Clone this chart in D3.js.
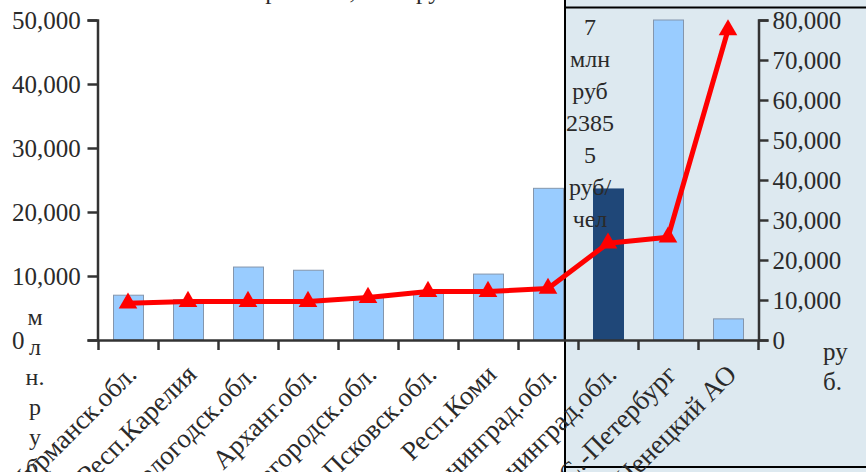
<!DOCTYPE html>
<html><head><meta charset="utf-8">
<script src="https://cdn.jsdelivr.net/npm/d3@7"></script>
<style>
html,body{margin:0;padding:0;background:#fff;}
svg{display:block;}
svg text{font-family:"Liberation Serif","DejaVu Serif",serif !important;}
</style></head>
<body>
<svg id="chart" width="866" height="472"></svg>
<script>
const categories = ["Мурманск.обл.","Респ.Карелия","Вологодск.обл.","Арханг.обл.","Новгородск.обл.","Псковск.обл.","Респ.Коми","Калининград.обл.","Ленинград.обл.","С.-Петербург","Ненецкий АО"];
const barValues = [7000, 6300, 11400, 10900, 6700, 7500, 10300, 23700, 23600, 50000, 3300];
const highlightIndex = 8;
const lineValues = [9200, 9600, 9600, 9600, 10600, 12100, 12100, 12900, 24200, 25700, 77500];
const leftTicks = [0, 10000, 20000, 30000, 40000, 50000];
const rightTicks = [0, 10000, 20000, 30000, 40000, 50000, 60000, 70000, 80000];
const leftTitleLines = ["м","л","н.","р","у","б."];
const rightTitleLines = ["ру","б."];
const noteLines = ["7","млн","руб","2385","5","руб/","чел"];
const titleText = "Объем ВРП в регионе, млн. руб.";

const svg = d3.select("#chart");
const W = 866, H = 472;
const x0 = 98, x1 = 758, yTop = 20, yBot = 340;
const txt = "#2a2a2a";
const FF = "Liberation Serif";

// shaded panel
svg.append("rect").attr("x",565).attr("y",0).attr("width",W-565).attr("height",H).attr("fill","#dde9f0");
svg.append("line").attr("x1",565).attr("x2",565).attr("y1",0).attr("y2",H).attr("stroke","#000").attr("stroke-width",2);
svg.append("line").attr("x1",565).attr("x2",W).attr("y1",7.5).attr("y2",7.5).attr("stroke","#000").attr("stroke-width",2);
svg.append("line").attr("x1",565).attr("x2",W).attr("y1",467).attr("y2",467).attr("stroke","#000").attr("stroke-width",2);

// clipped title
svg.append("text").attr("x",116).attr("y",-1).attr("font-size",25).attr("font-family",FF).attr("fill",txt).text(titleText);

const xb = d3.scaleBand().domain(categories).range([x0,x1]).paddingInner(0.5).paddingOuter(0.25);
const xi = d3.scaleLinear().domain([0,categories.length]).range([x0,x1]);
const yL = d3.scaleLinear().domain([0,50000]).range([yBot,yTop]);
const yR = d3.scaleLinear().domain([0,80000]).range([yBot,yTop]);

// bars
svg.append("g").selectAll("rect").data(barValues).join("rect")
  .attr("x",(d,i)=>xb(categories[i])+0.5)
  .attr("y",d=>yL(d))
  .attr("width",xb.bandwidth())
  .attr("height",d=>yBot-yL(d))
  .attr("fill",(d,i)=>i===highlightIndex?"#1f4778":"#99ccff")
  .attr("stroke",(d,i)=>i===highlightIndex?"#1f4778":"#8496ad")
  .attr("stroke-width",1);

// axes
const gL = svg.append("g").attr("transform",`translate(${x0-0.5},0)`)
  .call(d3.axisLeft(yL).tickValues(leftTicks).tickFormat(d3.format(",")).tickSize(10).tickSizeOuter(10));
gL.selectAll("text").attr("text-anchor","start").attr("x",12-(x0-0.5)).attr("font-size",25).attr("fill",txt);
const gR = svg.append("g").attr("transform",`translate(${x1+0.5},0)`)
  .call(d3.axisRight(yR).tickValues(rightTicks).tickFormat(d3.format(",")).tickSize(10).tickSizeOuter(10).tickPadding(4));
gR.selectAll("text").attr("font-size",25).attr("fill",txt);
const gB = svg.append("g").attr("transform",`translate(0,${yBot})`)
  .call(d3.axisBottom(xi).tickValues(d3.range(categories.length+1)).tickFormat("").tickSize(10).tickSizeOuter(0));
[gL,gR,gB].forEach(g=>{g.attr("font-family",FF);g.selectAll("path,line").attr("stroke","#333").attr("stroke-width",2.5);});

// category labels
svg.append("g").attr("font-family",FF).selectAll("text").data(categories).join("text")
  .attr("transform",d=>`translate(${xb(d)+xb.bandwidth()/2+10},376) rotate(-45)`)
  .attr("text-anchor","end").attr("font-size",27).attr("fill",txt).text(d=>d);

// line series
const pts = lineValues.map((v,i)=>[xb(categories[i])+xb.bandwidth()/2, yR(v)]);
svg.append("path").attr("d",d3.line()(pts)).attr("fill","none").attr("stroke","#ff0000").attr("stroke-width",5).attr("stroke-linejoin","round");
svg.append("g").selectAll("path").data(pts).join("path")
  .attr("transform",d=>`translate(${d[0]},${d[1]})`)
  .attr("d",d3.symbol().type(d3.symbolTriangle).size(150)).attr("fill","#ff0000");

// left wrapped title
svg.append("g").attr("font-family",FF).selectAll("text").data(leftTitleLines).join("text")
  .attr("x",35).attr("y",(d,i)=>325+i*30).attr("text-anchor","middle").attr("font-size",24).attr("fill",txt).text(d=>d);
// right wrapped title
svg.append("g").attr("font-family",FF).selectAll("text").data(rightTitleLines).join("text")
  .attr("x",823).attr("y",(d,i)=>360+i*30).attr("text-anchor","start").attr("font-size",25).attr("fill",txt).text(d=>d);
// note in panel
svg.append("g").attr("font-family",FF).selectAll("text").data(noteLines).join("text")
  .attr("x",590).attr("y",(d,i)=>35+i*32).attr("text-anchor","middle").attr("font-size",24).attr("fill",txt).text(d=>d);
</script>
</body></html>
